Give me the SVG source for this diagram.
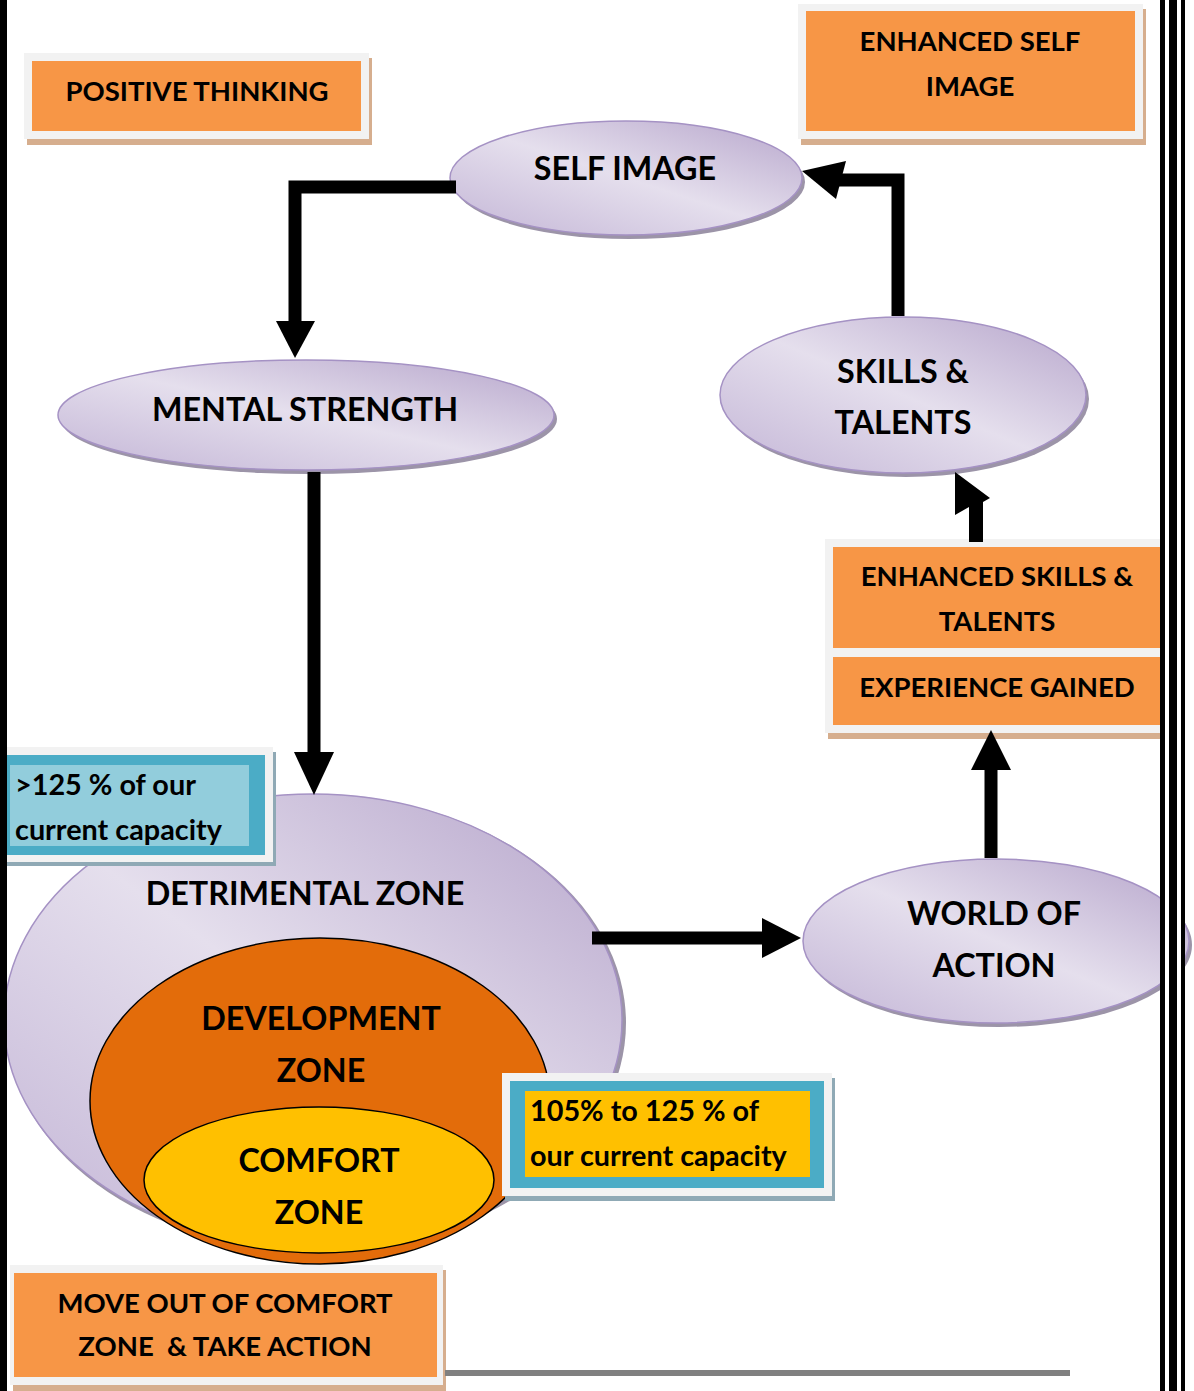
<svg xmlns="http://www.w3.org/2000/svg" width="1194" height="1391" viewBox="0 0 1194 1391">
<defs>
<linearGradient id="lav" x1="1" y1="0" x2="0" y2="1">
<stop offset="0" stop-color="#B6A5CB"/>
<stop offset="0.5" stop-color="#E5DFED"/>
<stop offset="1" stop-color="#C3B5D6"/>
</linearGradient>
<style>
.t{font-family:Lato,"Liberation Sans",sans-serif;font-weight:bold;fill:#000;white-space:pre}
.s{font-size:27.5px;text-anchor:middle}
.e{font-size:32.3px;text-anchor:middle}
.l{font-size:28.8px}
.ell{fill:url(#lav);stroke:#A592C4;stroke-width:1.5}
.shd{fill:#9C94A8}
.frame{fill:#F2F2F2}
.fsh{fill:#D6AE8E}
.org{fill:#F79646}
.conn{fill:none;stroke:#000;stroke-width:13}
</style>
</defs>
<rect width="1194" height="1391" fill="#fff"/>

<g id="detrimental-zone">
<ellipse cx="316" cy="1023" rx="310" ry="228" class="shd"/>
<ellipse cx="313" cy="1020" rx="309" ry="226" class="ell"/>
<text x="305" y="905" class="t e">DETRIMENTAL ZONE</text>
</g>
<g id="development-zone">
<ellipse cx="320" cy="1101" rx="230" ry="163" fill="#E36C0A" stroke="#000" stroke-width="1.5"/>
<text x="321" y="1030" class="t e">DEVELOPMENT</text>
<text x="321" y="1082" class="t e">ZONE</text>
</g>
<g id="comfort-zone">
<ellipse cx="319" cy="1180" rx="175" ry="73" fill="#FFC000" stroke="#000" stroke-width="1.5"/>
<text x="319" y="1172" class="t e">COMFORT</text>
<text x="319" y="1224" class="t e">ZONE</text>
</g>

<g id="positive-thinking">
<rect x="27" y="58" width="345" height="87" class="fsh"/>
<rect x="24" y="53" width="345" height="86" class="frame"/>
<rect x="32" y="61" width="329" height="70" class="org"/>
<text x="197" y="101" class="t s">POSITIVE THINKING</text>
</g>
<g id="enhanced-self-image">
<rect x="801" y="9" width="345" height="136" class="fsh"/>
<rect x="798" y="4" width="345" height="135" class="frame"/>
<rect x="806" y="11" width="329" height="120" class="org"/>
<text x="970" y="51" class="t s">ENHANCED SELF</text>
<text x="970" y="96" class="t s">IMAGE</text>
</g>

<g id="self-image">
<ellipse cx="629" cy="182" rx="176" ry="57" class="shd"/>
<ellipse cx="626" cy="178" rx="176" ry="57" class="ell"/>
<text x="625" y="180" class="t e">SELF IMAGE</text>
</g>
<g id="mental-strength">
<ellipse cx="309" cy="419" rx="248" ry="55" class="shd"/>
<ellipse cx="306" cy="415" rx="248" ry="55" class="ell"/>
<text x="305" y="421" class="t e">MENTAL STRENGTH</text>
</g>
<g id="skills-talents">
<ellipse cx="906" cy="399" rx="183" ry="78" class="shd"/>
<ellipse cx="903" cy="395" rx="183" ry="78" class="ell"/>
<text x="903" y="383" class="t e">SKILLS &amp;</text>
<text x="903" y="434" class="t e">TALENTS</text>
</g>
<g id="enhanced-skills">
<rect x="828" y="544" width="340" height="195" class="fsh"/>
<rect x="825" y="539" width="340" height="194" class="frame"/>
<rect x="833" y="547" width="330" height="101" class="org"/>
<rect x="833" y="657" width="330" height="68" class="org"/>
<text x="997" y="586" class="t s">ENHANCED SKILLS &amp;</text>
<text x="997" y="631" class="t s">TALENTS</text>
<text x="997" y="697" class="t s">EXPERIENCE GAINED</text>
</g>
<g id="world-of-action">
<ellipse cx="999" cy="945" rx="193" ry="82" class="shd"/>
<ellipse cx="996" cy="941" rx="193" ry="82" class="ell"/>
<text x="994" y="925" class="t e">WORLD OF</text>
<text x="994" y="977" class="t e">ACTION</text>
</g>

<g id="over-125">
<rect x="0" y="752" width="276" height="114" fill="#8FA9B5"/>
<rect x="0" y="747" width="273" height="115" class="frame"/>
<rect x="7" y="755" width="258" height="100" fill="#4BACC6"/>
<rect x="10" y="765" width="239" height="81" fill="#92CDDC"/>
<text x="15" y="795" class="t l">&gt;125 % of our</text>
<text x="15" y="840" class="t l">current capacity</text>
</g>
<g id="range-105-125">
<rect x="505" y="1078" width="330" height="123" fill="#8FA9B5"/>
<rect x="502" y="1073" width="330" height="123" class="frame"/>
<rect x="510" y="1081" width="314" height="107" fill="#4BACC6"/>
<rect x="525" y="1091" width="285" height="86" fill="#FFC000"/>
<text x="530" y="1121" class="t l">105% to 125 % of</text>
<text x="530" y="1166" class="t l">our current capacity</text>
</g>

<g id="connectors">
<polyline class="conn" points="456,187 295,187 295,323"/>
<polygon points="276,321 315,321 295,358"/>
<line class="conn" x1="314" y1="472" x2="314" y2="754"/>
<polygon points="294,752 334,752 314,795"/>
<line class="conn" x1="592" y1="938" x2="764" y2="938"/>
<polygon points="762,918 762,958 801,938"/>
<line class="conn" x1="991" y1="858" x2="991" y2="768"/>
<polygon points="971,770 1011,770 991,730"/>
<polygon points="955,472 990,498 983,502 983,542 969,542 969,507 955,515"/>
<polyline class="conn" points="898,316 898,180 838,180"/>
<polygon points="802,171 846,161 836,199"/>
</g>

<g id="move-out">
<rect x="13" y="1270" width="433" height="121" class="fsh"/>
<rect x="10" y="1265" width="433" height="120" class="frame"/>
<rect x="14" y="1273" width="423" height="104" class="org"/>
<text x="225" y="1313" class="t s">MOVE OUT OF COMFORT</text>
<text x="225" y="1356" class="t s">ZONE  &amp; TAKE ACTION</text>
</g>

<g id="page-border">
<rect x="445" y="1370" width="625" height="6" fill="#808080"/>
<rect x="0" y="0" width="7" height="1391" fill="#000"/>
<rect x="1160" y="0" width="5" height="1391" fill="#000"/>
<rect x="1169" y="0" width="8" height="1391" fill="#000"/>
<rect x="1181" y="0" width="4" height="1391" fill="#000"/>
<rect x="1165" y="0" width="4" height="1391" fill="#fff"/>
<rect x="1177" y="0" width="4" height="1391" fill="#fff"/>
</g>
</svg>
